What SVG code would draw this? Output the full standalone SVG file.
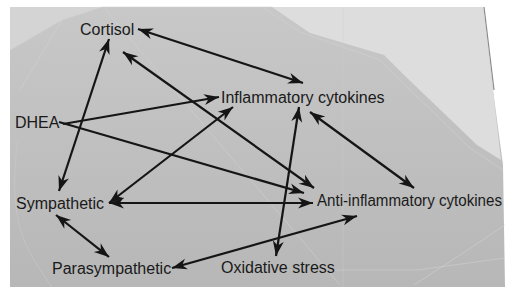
<svg xmlns="http://www.w3.org/2000/svg" width="514" height="295" viewBox="0 0 514 295">
<defs>
<style>
.lbl{font-family:"Liberation Sans",Arial,Helvetica,sans-serif;font-size:16px;fill:#1a1a1a}
.e{stroke:#151515;stroke-width:2.2;fill:none;marker-end:url(#ah)}
.d{marker-start:url(#ah)}
.edge{fill:none;stroke:#d2d2d2;stroke-width:1;opacity:.55}
</style>
<marker id="ah" markerUnits="userSpaceOnUse" viewBox="-1 -7 18 14" markerWidth="18" markerHeight="14" refX="15" refY="0" orient="auto-start-reverse">
<path d="M0,-5.5 L15,0 L0,5.5 L4.5,0 Z" fill="#151515"/>
</marker>
<linearGradient id="bg" x1="0" y1="0" x2="0" y2="1">
<stop offset="0" stop-color="#c8c8c8"/>
<stop offset="1" stop-color="#b7b7b7"/>
</linearGradient>
</defs>
<rect x="0" y="0" width="514" height="295" fill="#ffffff"/>
<g id="background">
<polygon points="10,7 483,7 493,90 503,165 505,287 10,287" fill="url(#bg)"/>
<polygon points="10,7 102,7 62,20 10,50" fill="#d4d4d4"/>
<polygon points="272,7 483,7 493,90 501,160 477,145 404,75 384,55 310,33" fill="#dddddd"/>
<polyline class="edge" points="10,50 62,20 102,7"/>
<polyline class="edge" points="20,90 65,15 102,7 272,7"/>
<polyline class="edge" points="265,9 300,32 380,60 400,80 470,148 503,170"/>
<line class="edge" x1="105" y1="9" x2="340" y2="285"/>
<polyline class="edge" points="414,285 460,255 505,225"/>
<polyline class="edge" points="335,270 417,270 505,258"/>
<line x1="343" y1="7" x2="343" y2="287" stroke="#d0d0d0" stroke-width="0.8" opacity=".4"/>
<path d="M18,140 C12,180 14,215 24,240 C30,255 40,270 52,287" fill="none" stroke="#cacaca" stroke-width="1" opacity=".6"/>
<line x1="484" y1="7" x2="494" y2="90" stroke="#8a8a8a" stroke-width="1.2"/>
</g>
<g id="connectors">
<line class="e d" x1="138" y1="29" x2="303" y2="83"/>
<line class="e d" x1="123" y1="52" x2="314" y2="188"/>
<line class="e" x1="63" y1="124" x2="219" y2="97"/>
<line class="e" x1="59" y1="122" x2="304" y2="193"/>
<line class="e d" x1="109" y1="39" x2="59" y2="191"/>
<line class="e d" x1="233" y1="107" x2="109" y2="203"/>
<line class="e d" x1="109" y1="203" x2="313" y2="203"/>
<line class="e d" x1="56" y1="215" x2="109" y2="257"/>
<line class="e d" x1="172" y1="268" x2="357" y2="216"/>
<line class="e d" x1="299" y1="107" x2="276" y2="256"/>
<line class="e d" x1="310" y1="112" x2="414" y2="188"/>
</g>
<g id="node-cortisol"><text class="lbl" x="80" y="35">Cortisol</text></g>
<g id="node-inflammatory"><text class="lbl" x="221" y="103">Inflammatory cytokines</text></g>
<g id="node-dhea"><text class="lbl" x="15" y="128">DHEA</text></g>
<g id="node-sympathetic"><text class="lbl" x="16" y="209">Sympathetic</text></g>
<g id="node-anti"><text class="lbl" x="317" y="206" textLength="185" lengthAdjust="spacingAndGlyphs">Anti-inflammatory cytokines</text></g>
<g id="node-parasympathetic"><text class="lbl" x="52" y="274">Parasympathetic</text></g>
<g id="node-oxidative"><text class="lbl" x="221" y="273">Oxidative stress</text></g>
</svg>
